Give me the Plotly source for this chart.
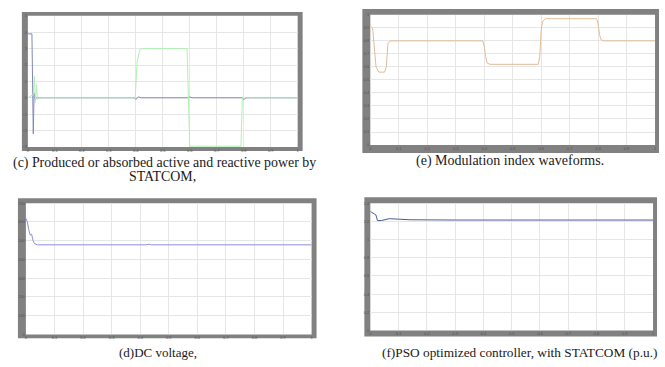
import plotly.graph_objects as go

W, H = 665, 367

# ---------------- data ----------------
# (c) active / reactive power of STATCOM
c_p_time = [0, 0.015, 0.02, 0.023, 0.027, 0.032, 0.395, 0.40, 0.41, 0.42, 0.595, 0.60, 0.61, 0.795, 0.80, 0.81, 1.0]
c_p_vals = [3.9, 3.9, -2.2, 0.3, -0.1, 0.0, 0.0, -0.1, 0.05, 0.0, 0.0, 0.05, 0.0, 0.0, -0.1, 0.0, 0.0]
c_q_time = [0, 0.02, 0.024, 0.028, 0.032, 0.036, 0.04, 0.398, 0.405, 0.415, 0.425, 0.59, 0.595, 0.60, 0.79, 0.795, 0.80, 1.0]
c_q_vals = [0.0, 0.2, 1.3, -0.3, 0.8, -0.1, 0.0, 0.0, 2.2, 2.95, 3.0, 3.0, 0.0, -2.95, -2.95, 0.0, 0.0, 0.0]

# (e) modulation index
e_time = [0, 0.008, 0.02, 0.03, 0.05, 0.056, 0.062, 0.07, 0.395, 0.40, 0.405, 0.41, 0.42,
          0.59, 0.595, 0.60, 0.605, 0.615, 0.795, 0.80, 0.805, 0.81, 0.82, 1.0]
e_vals = [0.91, 0.90, 0.60, 0.56, 0.56, 0.60, 0.78, 0.80, 0.80, 0.76, 0.68, 0.63, 0.62,
          0.62, 0.68, 0.88, 0.95, 0.97, 0.97, 0.93, 0.85, 0.81, 0.80, 0.80]

# (d) DC voltage
d_time = [0, 0.005, 0.01, 0.015, 0.02, 0.025, 0.03, 0.04, 0.42, 0.43, 0.44, 0.60, 0.61, 1.0]
d_vals = [620, 600, 560, 530, 535, 500, 485, 478, 478, 481, 478, 478, 479, 478]

# (f) PSO optimized controller, with STATCOM (p.u.)
f_time = [0, 0.007, 0.015, 0.02, 0.025, 0.04, 0.067, 0.1, 0.14, 0.3, 1.0]
f_vals = [1.31, 1.30, 1.28, 1.27, 1.21, 1.21, 1.23, 1.225, 1.218, 1.215, 1.215]

captions = {
    "c1": "(c) Produced or absorbed active and reactive power by",
    "c2": "STATCOM,",
    "e": "(e) Modulation index waveforms.",
    "d": "(d)DC voltage,",
    "f": "(f)PSO optimized controller, with STATCOM (p.u.)",
}

# ---------------- layout helpers ----------------
def px(x):
    return x / W

def py(y):
    return 1 - y / H

FRAME = "#818181"
GRID = "#e6e6e6"

# panel geometry in pixels: frame box and inner plot box
panels = {
    "c": dict(frame=(21, 9, 303, 150), plot=(27, 13, 298, 146), yr=[-3, 5], dy=1, ax=""),
    "e": dict(frame=(363, 6, 661, 152), plot=(371, 12, 657, 144), yr=[0, 1], dy=0.1, ax="2"),
    "d": dict(frame=(17, 198, 317, 340), plot=(25, 203, 312, 336), yr=[0, 700], dy=100, ax="3"),
    "f": dict(frame=(365, 197, 659, 338), plot=(371, 203, 655, 332), yr=[0, 1.4], dy=0.2, ax="4"),
}

fig = go.Figure()

fig.add_trace(go.Scatter(x=c_p_time, y=c_p_vals, mode="lines", line=dict(color="#8388bc", width=1),
                         xaxis="x", yaxis="y", showlegend=False))
fig.add_trace(go.Scatter(x=c_q_time, y=c_q_vals, mode="lines", line=dict(color="#b2efb2", width=1),
                         xaxis="x", yaxis="y", showlegend=False))
fig.add_trace(go.Scatter(x=e_time, y=e_vals, mode="lines", line=dict(color="#dfbc98", width=1),
                         xaxis="x2", yaxis="y2", showlegend=False))
fig.add_trace(go.Scatter(x=d_time, y=d_vals, mode="lines", line=dict(color="#8e8ed6", width=1),
                         xaxis="x3", yaxis="y3", showlegend=False))
fig.add_trace(go.Scatter(x=f_time, y=f_vals, mode="lines", line=dict(color="#4c5b98", width=1),
                         xaxis="x4", yaxis="y4", showlegend=False))

shapes = []
layout = dict(
    width=W, height=H, margin=dict(l=0, r=0, t=0, b=0),
    paper_bgcolor="white", plot_bgcolor="white", showlegend=False,
)
tickfont = dict(size=4, color="#555555", family="Liberation Sans")
for key, p in panels.items():
    fx0, fy0, fx1, fy1 = p["frame"]
    x0, y0, x1, y1 = p["plot"]
    shapes.append(dict(type="rect", xref="paper", yref="paper", layer="below",
                       x0=px(fx0), x1=px(fx1), y0=py(fy1), y1=py(fy0),
                       fillcolor=FRAME, line=dict(width=0)))
    shapes.append(dict(type="rect", xref="paper", yref="paper", layer="below",
                       x0=px(x0), x1=px(x1), y0=py(y1), y1=py(y0),
                       fillcolor="white", line=dict(width=0)))
    ax = p["ax"]
    xa = "xaxis" + ax
    ya = "yaxis" + ax
    layout[xa] = dict(domain=[px(x0), px(x1)], range=[0, 1], dtick=0.1, showgrid=True,
                      gridcolor=GRID, gridwidth=1, zeroline=False, showline=False,
                      ticks="", tickfont=tickfont, anchor="y" + ax, fixedrange=True)
    layout[ya] = dict(domain=[py(y1), py(y0)], range=p["yr"], dtick=p["dy"], showgrid=True,
                      gridcolor=GRID, gridwidth=1, zeroline=False, showline=False,
                      ticks="", tickfont=tickfont, anchor="x" + ax, fixedrange=True)

layout["shapes"] = shapes

serif = "Liberation Serif, Times New Roman, DejaVu Serif, serif"
annots = [
    ("c1", 164, 162, 13.9),
    ("c2", 162, 176, 13.9),
    ("e", 511, 160, 14),
    ("d", 158, 354, 13),
    ("f", 521, 354, 13.3),
]
layout["annotations"] = [
    dict(text=captions[k], x=px(x), y=py(y), xref="paper", yref="paper", showarrow=False,
         xanchor="center", yanchor="middle",
         font=dict(family=serif, size=s, color="#1a1a1a"))
    for k, x, y, s in annots
]

fig.update_layout(**layout)
fig.write_html("out.html", config={"displayModeBar": False},
               post_script="document.body.style.margin='0';document.body.style.overflow='hidden';")
